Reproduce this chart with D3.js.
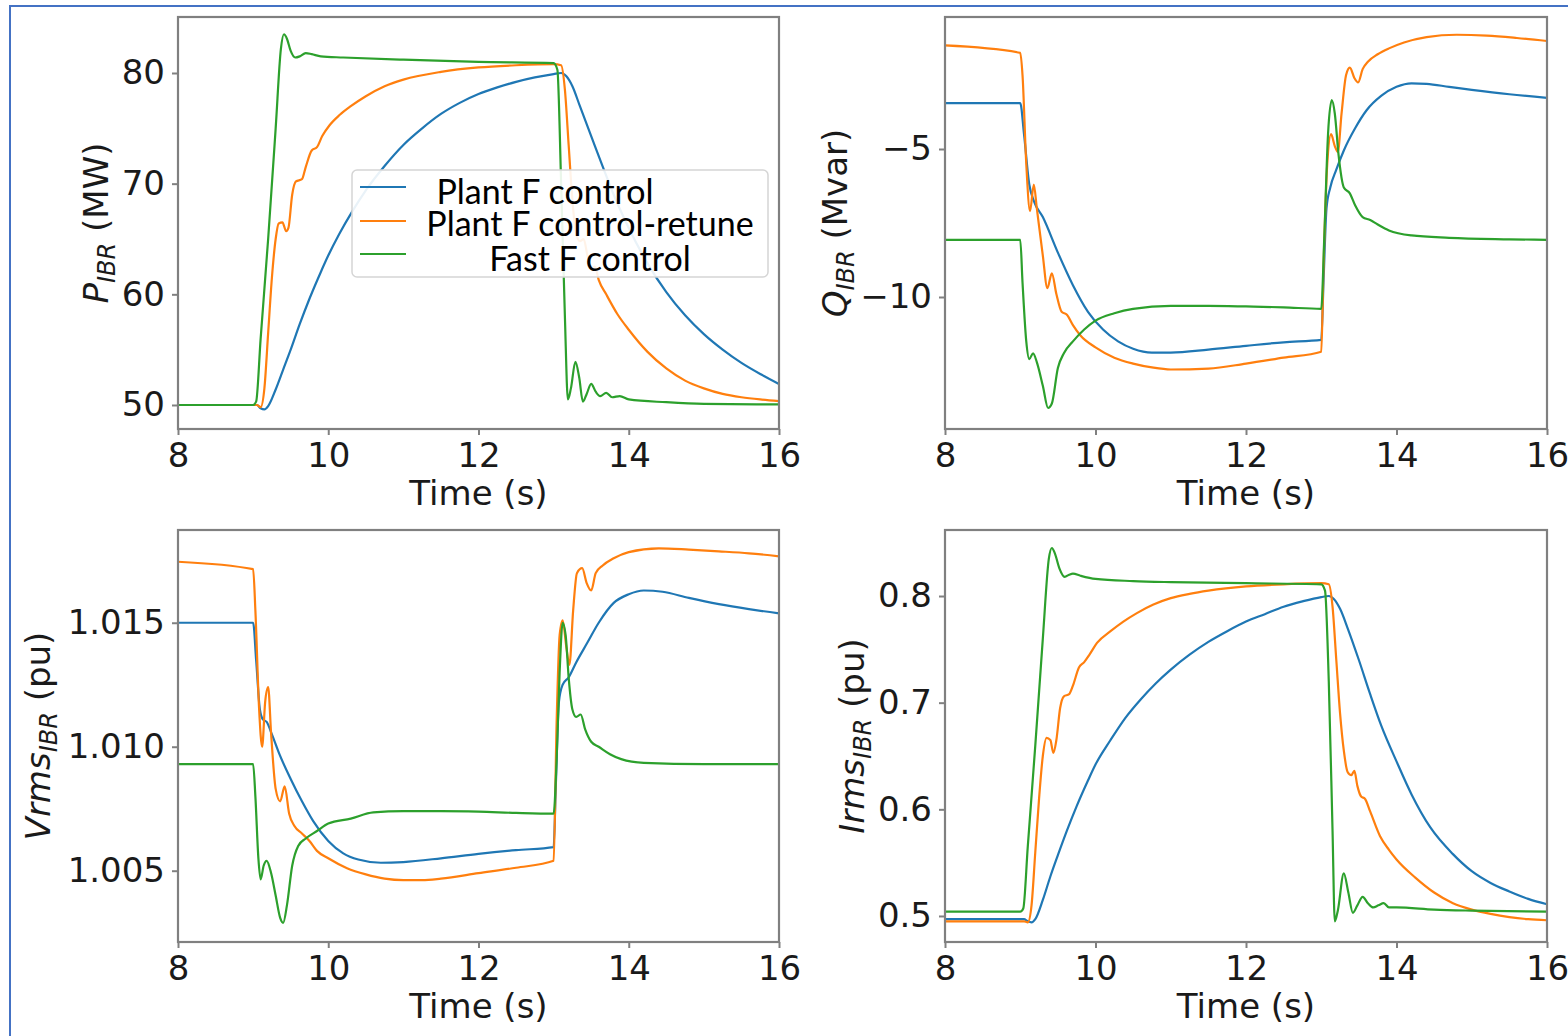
<!DOCTYPE html>
<html>
<head>
<meta charset="utf-8">
<script src="https://cdn.jsdelivr.net/npm/d3@7"></script>
<style>
  body { margin: 0; background: #fff; }
  svg { display: block; }
  .tick text { font-family: "DejaVu Sans", sans-serif; font-size: 34px; fill: #1a1a1a; }
  .axis-label { font-family: "DejaVu Sans", sans-serif; font-size: 34px; fill: #1a1a1a; }
  .legend-text { font-family: Lato, "Open Sans", sans-serif; font-size: 34px; fill: #000; }
</style>
</head>
<body>
<svg id="chart" width="1568" height="1036"></svg>
<script>
// ---- data (time in s) ----
const timeTicks = [8, 10, 12, 14, 16];
const pTicks = [50, 60, 70, 80];
const qTicks = [-10, -5];
const vTicks = [1.005, 1.010, 1.015];
const iTicks = [0.5, 0.6, 0.7, 0.8];

const seriesNames = ['Plant F control', 'Plant F control-retune', 'Fast F control'];

// P_IBR (MW)
const pPlant = [[8,50],[9.05,50],[9.1,49.7],[9.15,49.6],[9.2,49.9],[9.3,51.4],[9.4,53.2],[9.5,55.0],[9.62,57.3],[9.75,59.6],[9.9,62.0],[10.0,63.5],[10.15,65.5],[10.32,67.5],[10.5,69.4],[10.75,71.6],[11.0,73.5],[11.25,75.0],[11.5,76.3],[11.75,77.3],[12.0,78.1],[12.25,78.7],[12.5,79.2],[12.75,79.6],[13.0,79.9],[13.1,80.0],[13.17,79.7],[13.25,78.8],[13.35,77.0],[13.5,74.3],[13.65,71.6],[13.8,69.0],[14.0,66.0],[14.25,62.8],[14.5,60.2],[14.75,58.1],[15.0,56.4],[15.25,55.0],[15.5,53.8],[15.75,52.8],[16,51.9]];
const pRetune = [[8,50],[9.05,50],[9.1,49.8],[9.15,51.5],[9.2,56.5],[9.25,61.5],[9.3,65.0],[9.34,66.4],[9.39,66.5],[9.44,65.7],[9.47,66.0],[9.52,69.0],[9.57,70.2],[9.65,70.4],[9.7,71.5],[9.78,73.0],[9.85,73.3],[9.92,74.3],[10.02,75.3],[10.15,76.2],[10.3,77.0],[10.5,77.9],[10.75,78.8],[11.0,79.4],[11.5,80.1],[12.0,80.5],[12.5,80.7],[13.0,80.8],[13.1,80.7],[13.15,78.5],[13.2,73.5],[13.25,68.5],[13.3,65.5],[13.35,64.8],[13.4,65.0],[13.45,63.5],[13.5,62.3],[13.55,62.5],[13.6,61.3],[13.7,60.0],[13.85,58.2],[14.0,56.8],[14.25,54.8],[14.5,53.3],[14.75,52.2],[15.0,51.5],[15.25,51.0],[15.5,50.7],[15.75,50.5],[16,50.35]];
const pFast = [[8,50],[9.0,50],[9.04,50.3],[9.1,56],[9.2,65],[9.3,75],[9.37,82.2],[9.41,83.5],[9.45,83.1],[9.5,82.0],[9.56,81.4],[9.62,81.5],[9.7,81.8],[9.78,81.7],[9.9,81.5],[10.2,81.4],[11,81.2],[12,81.0],[13.0,80.9],[13.05,80.3],[13.1,70],[13.15,58],[13.19,50.5],[13.23,51.5],[13.29,53.9],[13.34,52.5],[13.39,50.3],[13.44,51.0],[13.5,51.9],[13.56,51.2],[13.62,50.8],[13.7,51.1],[13.78,50.7],[13.88,50.8],[14.0,50.5],[14.5,50.25],[15,50.1],[16,50.05]];

// Q_IBR (Mvar)
const qPlant = [[8,-3.45],[9.0,-3.45],[9.05,-4.5],[9.12,-6.2],[9.18,-6.75],[9.3,-7.3],[9.5,-8.5],[9.7,-9.6],[9.9,-10.5],[10.1,-11.1],[10.3,-11.5],[10.5,-11.75],[10.75,-11.88],[11.0,-11.88],[11.5,-11.78],[12.0,-11.65],[12.5,-11.53],[13.0,-11.45],[13.03,-9.5],[13.07,-7.0],[13.12,-6.3],[13.2,-5.7],[13.3,-5.05],[13.45,-4.3],[13.6,-3.7],[13.8,-3.2],[14.0,-2.9],[14.2,-2.78],[14.4,-2.8],[14.7,-2.9],[15.0,-3.0],[15.5,-3.15],[16,-3.27]];
const qRetune = [[8,-1.5],[9.0,-1.75],[9.03,-2.5],[9.08,-5.5],[9.13,-7.1],[9.18,-6.2],[9.22,-7.0],[9.3,-8.6],[9.36,-9.7],[9.42,-9.2],[9.48,-9.9],[9.55,-10.5],[9.62,-10.6],[9.7,-10.95],[9.8,-11.3],[10.0,-11.7],[10.25,-12.05],[10.5,-12.25],[10.75,-12.38],[11.0,-12.45],[11.5,-12.42],[12.0,-12.25],[12.5,-12.05],[13.0,-11.85],[13.03,-9.0],[13.08,-5.5],[13.13,-4.5],[13.18,-4.9],[13.22,-5.1],[13.27,-3.8],[13.33,-2.5],[13.38,-2.25],[13.44,-2.6],[13.49,-2.75],[13.55,-2.3],[13.62,-2.05],[13.75,-1.8],[13.9,-1.6],[14.1,-1.4],[14.4,-1.22],[14.8,-1.14],[15.2,-1.17],[15.6,-1.25],[16,-1.35]];
const qFast = [[8,-8.07],[9.0,-8.07],[9.03,-9.5],[9.08,-11.5],[9.12,-12.1],[9.17,-11.9],[9.22,-12.2],[9.3,-13.0],[9.37,-13.75],[9.42,-13.6],[9.5,-12.4],[9.58,-11.9],[9.7,-11.5],[9.85,-11.1],[10.0,-10.8],[10.25,-10.55],[10.5,-10.4],[11.0,-10.3],[11.5,-10.3],[12.0,-10.32],[12.5,-10.35],[13.0,-10.4],[13.04,-8.0],[13.09,-4.5],[13.14,-3.35],[13.18,-3.8],[13.23,-5.2],[13.3,-6.3],[13.38,-6.5],[13.45,-6.9],[13.55,-7.3],[13.65,-7.4],[13.75,-7.55],[13.9,-7.75],[14.2,-7.92],[14.7,-8.0],[15.5,-8.05],[16,-8.07]];

// Vrms_IBR (pu)
const vPlant = [[8,1.0150],[9.0,1.0150],[9.04,1.0135],[9.09,1.0115],[9.13,1.0111],[9.18,1.0110],[9.25,1.0105],[9.35,1.0097],[9.5,1.0087],[9.65,1.0078],[9.8,1.0070],[10.0,1.0062],[10.2,1.0057],[10.4,1.00545],[10.7,1.00532],[11.0,1.00535],[11.5,1.0055],[12.0,1.00568],[12.5,1.00583],[13.0,1.00595],[13.03,1.0085],[13.07,1.0118],[13.12,1.0125],[13.2,1.0128],[13.3,1.0134],[13.45,1.0142],[13.6,1.0150],[13.8,1.0158],[14.0,1.01615],[14.2,1.0163],[14.45,1.01625],[14.8,1.0160],[15.2,1.01575],[15.6,1.01555],[16,1.01538]];
const vRetune = [[8,1.01746],[9.0,1.01716],[9.03,1.0155],[9.08,1.0115],[9.12,1.0100],[9.16,1.0118],[9.2,1.0124],[9.24,1.0105],[9.3,1.0083],[9.36,1.0078],[9.42,1.0084],[9.48,1.0073],[9.55,1.0068],[9.65,1.0065],[9.75,1.0062],[9.85,1.0058],[10.0,1.0055],[10.25,1.0051],[10.5,1.00485],[10.75,1.00468],[11.0,1.00462],[11.25,1.00462],[11.5,1.00468],[12.0,1.0049],[12.5,1.00512],[13.0,1.0054],[13.04,1.0110],[13.08,1.0145],[13.12,1.0151],[13.17,1.0140],[13.21,1.0133],[13.26,1.0155],[13.31,1.0170],[13.38,1.0172],[13.44,1.0166],[13.5,1.0163],[13.56,1.0170],[13.65,1.0173],[13.8,1.0176],[14.0,1.01785],[14.4,1.0180],[14.8,1.01795],[15.2,1.01788],[15.6,1.0178],[16,1.01768]];
const vFast = [[8,1.0093],[9.0,1.0093],[9.03,1.0080],[9.07,1.0055],[9.1,1.00465],[9.14,1.0052],[9.18,1.0054],[9.24,1.0049],[9.3,1.0040],[9.36,1.0031],[9.4,1.0029],[9.45,1.0036],[9.52,1.0052],[9.6,1.0060],[9.7,1.0063],[9.85,1.0066],[10.0,1.0069],[10.3,1.0071],[10.6,1.00735],[11.0,1.0074],[11.5,1.0074],[12.0,1.00738],[12.5,1.00733],[13.0,1.0073],[13.04,1.0095],[13.08,1.0130],[13.12,1.0150],[13.16,1.0145],[13.2,1.0128],[13.25,1.0115],[13.3,1.0112],[13.36,1.0113],[13.42,1.0107],[13.5,1.0102],[13.6,1.0100],[13.75,1.0097],[13.9,1.0095],[14.2,1.00935],[15,1.0093],[16,1.0093]];

// Irms_IBR (pu)
const iPlant = [[8,0.497],[9.05,0.497],[9.1,0.495],[9.15,0.494],[9.2,0.497],[9.3,0.515],[9.4,0.537],[9.5,0.557],[9.62,0.58],[9.75,0.603],[9.9,0.627],[10.0,0.642],[10.2,0.665],[10.4,0.686],[10.6,0.703],[10.8,0.718],[11.0,0.731],[11.25,0.745],[11.5,0.757],[11.75,0.767],[12.0,0.776],[12.25,0.783],[12.5,0.79],[12.75,0.795],[13.0,0.799],[13.1,0.8],[13.17,0.797],[13.25,0.788],[13.35,0.770],[13.5,0.740],[13.65,0.708],[13.8,0.678],[14.0,0.645],[14.2,0.614],[14.45,0.583],[14.75,0.558],[15.0,0.542],[15.25,0.531],[15.5,0.523],[15.75,0.516],[16,0.511]];
const iRetune = [[8,0.495],[9.05,0.495],[9.1,0.494],[9.15,0.51],[9.2,0.56],[9.25,0.61],[9.3,0.65],[9.35,0.667],[9.4,0.665],[9.44,0.653],[9.48,0.665],[9.53,0.695],[9.58,0.706],[9.65,0.708],[9.7,0.716],[9.78,0.733],[9.85,0.738],[9.92,0.745],[10.02,0.756],[10.2,0.767],[10.37,0.776],[10.55,0.784],[10.77,0.792],[11.0,0.798],[11.25,0.802],[11.5,0.805],[12.0,0.809],[12.5,0.811],[13.0,0.812],[13.1,0.811],[13.15,0.79],[13.2,0.74],[13.25,0.69],[13.3,0.655],[13.35,0.635],[13.4,0.632],[13.44,0.636],[13.48,0.622],[13.53,0.612],[13.58,0.61],[13.65,0.598],[13.78,0.575],[13.9,0.562],[14.0,0.553],[14.25,0.536],[14.5,0.522],[14.75,0.512],[15.0,0.506],[15.25,0.502],[15.5,0.499],[15.75,0.497],[16,0.496]];
const iFast = [[8,0.504],[9.0,0.504],[9.04,0.507],[9.1,0.565],[9.2,0.66],[9.3,0.76],[9.38,0.835],[9.42,0.845],[9.46,0.84],[9.52,0.826],[9.59,0.818],[9.65,0.82],[9.7,0.821],[9.8,0.819],[10.0,0.816],[10.5,0.814],[11,0.813],[12,0.812],[13.0,0.811],[13.05,0.805],[13.1,0.72],[13.15,0.58],[13.18,0.495],[13.22,0.505],[13.3,0.540],[13.36,0.522],[13.42,0.503],[13.48,0.51],[13.55,0.518],[13.62,0.512],[13.69,0.508],[13.76,0.51],[13.83,0.512],[13.9,0.508],[14.0,0.508],[14.5,0.506],[15,0.505],[16,0.504]];

// ---- layout ----
const colors = ['#1f77b4', '#ff7f0e', '#2ca02c'];
const spineColor = '#808080';

const panels = [
  { box: { left: 178, right: 779, top: 17, bottom: 429 }, yDomain: [47.83, 85.06], yTicks: pTicks, fmt: d3.format('d'),
    label: [['P', 'it'], ['IBR', 'sub'], ['\u00a0(MW)', '']], labelX: 108, series: [pPlant, pRetune, pFast] },
  { box: { left: 945, right: 1547, top: 17, bottom: 429 }, yDomain: [-14.46, -0.54], yTicks: qTicks, fmt: d3.format('d'),
    label: [['Q', 'it'], ['IBR', 'sub'], ['\u00a0(Mvar)', '']], labelX: 847, series: [qPlant, qRetune, qFast] },
  { box: { left: 178, right: 779, top: 530, bottom: 942 }, yDomain: [1.002125, 1.01874], yTicks: vTicks, fmt: d3.format('.3f'),
    label: [['Vrms', 'it'], ['IBR', 'sub'], ['\u00a0(pu)', '']], labelX: 50, series: [vPlant, vRetune, vFast] },
  { box: { left: 945, right: 1547, top: 530, bottom: 942 }, yDomain: [0.4756, 0.8619], yTicks: iTicks, fmt: d3.format('.1f'),
    label: [['Irms', 'it'], ['IBR', 'sub'], ['\u00a0(pu)', '']], labelX: 864, series: [iPlant, iRetune, iFast] }
];

const svg = d3.select('#chart');

// slide frame
svg.append('rect')
  .attr('x', 10).attr('y', 6)
  .attr('width', 1580).attr('height', 1050)
  .attr('fill', 'none')
  .attr('stroke', '#4472c4')
  .attr('stroke-width', 2);

panels.forEach(p => {
  const b = p.box;
  const x = d3.scaleLinear().domain([8, 16]).range([b.left, b.right]);
  const y = d3.scaleLinear().domain(p.yDomain).range([b.bottom, b.top]);
  const g = svg.append('g');

  const line = d3.line()
    .x(d => x(d[0]))
    .y(d => y(d[1]))
    .curve(d3.curveMonotoneX);

  p.series.forEach((s, i) => {
    g.append('path')
      .datum(s)
      .attr('d', line)
      .attr('fill', 'none')
      .attr('stroke', colors[i])
      .attr('stroke-width', 2.2)
      .attr('stroke-linejoin', 'round');
  });

  // spines
  g.append('rect')
    .attr('x', b.left).attr('y', b.top)
    .attr('width', b.right - b.left).attr('height', b.bottom - b.top)
    .attr('fill', 'none')
    .attr('stroke', spineColor)
    .attr('stroke-width', 2.2);

  const xAxis = g.append('g')
    .attr('transform', `translate(0,${b.bottom})`)
    .call(d3.axisBottom(x).tickValues(timeTicks).tickSize(6).tickSizeOuter(0).tickPadding(8).tickFormat(d3.format('d')));
  const yAxis = g.append('g')
    .attr('transform', `translate(${b.left},0)`)
    .call(d3.axisLeft(y).tickValues(p.yTicks).tickSize(6).tickSizeOuter(0).tickPadding(7).tickFormat(p.fmt));

  [xAxis, yAxis].forEach(a => {
    a.attr('font-family', null).attr('font-size', null);
    a.select('.domain').remove();
    a.selectAll('.tick line').attr('stroke', spineColor).attr('stroke-width', 2);
  });
  // matplotlib draws a real minus sign
  yAxis.selectAll('.tick text').text(d => p.fmt(d).replace('-', '\u2212'));

  g.append('text')
    .attr('class', 'axis-label')
    .attr('x', (b.left + b.right) / 2)
    .attr('y', b.bottom + 76)
    .attr('text-anchor', 'middle')
    .text('Time (s)');

  // rotated y label with a mathtext-like subscript
  const cy = (b.top + b.bottom) / 2;
  const yl = g.append('text')
    .attr('class', 'axis-label')
    .attr('transform', `translate(${p.labelX},${cy}) rotate(-90)`)
    .attr('text-anchor', 'middle');
  p.label.forEach(([t, kind]) => {
    const ts = yl.append('tspan').text(t);
    if (kind === 'it') ts.attr('font-style', 'italic');
    if (kind === 'sub') ts.attr('font-style', 'italic').attr('font-size', 24).attr('dy', 7);
    if (kind === '') ts.attr('dy', -7);
  });
});

// legend (first panel only)
const lg = svg.append('g');
lg.append('rect')
  .attr('x', 352).attr('y', 170)
  .attr('width', 416).attr('height', 107)
  .attr('rx', 5)
  .attr('fill', '#fff').attr('fill-opacity', 0.9)
  .attr('stroke', '#d5d5d5').attr('stroke-width', 1.5);

const legendRows = [
  { y: 187, tx: 545, ty: 204 },
  { y: 221, tx: 590, ty: 236 },
  { y: 254, tx: 590, ty: 271 }
];
seriesNames.forEach((name, i) => {
  const r = legendRows[i];
  lg.append('line')
    .attr('x1', 360).attr('x2', 406)
    .attr('y1', r.y).attr('y2', r.y)
    .attr('stroke', colors[i]).attr('stroke-width', 2.2);
  lg.append('text')
    .attr('class', 'legend-text')
    .attr('x', r.tx).attr('y', r.ty)
    .attr('text-anchor', 'middle')
    .text(name);
});
</script>
</body>
</html>
